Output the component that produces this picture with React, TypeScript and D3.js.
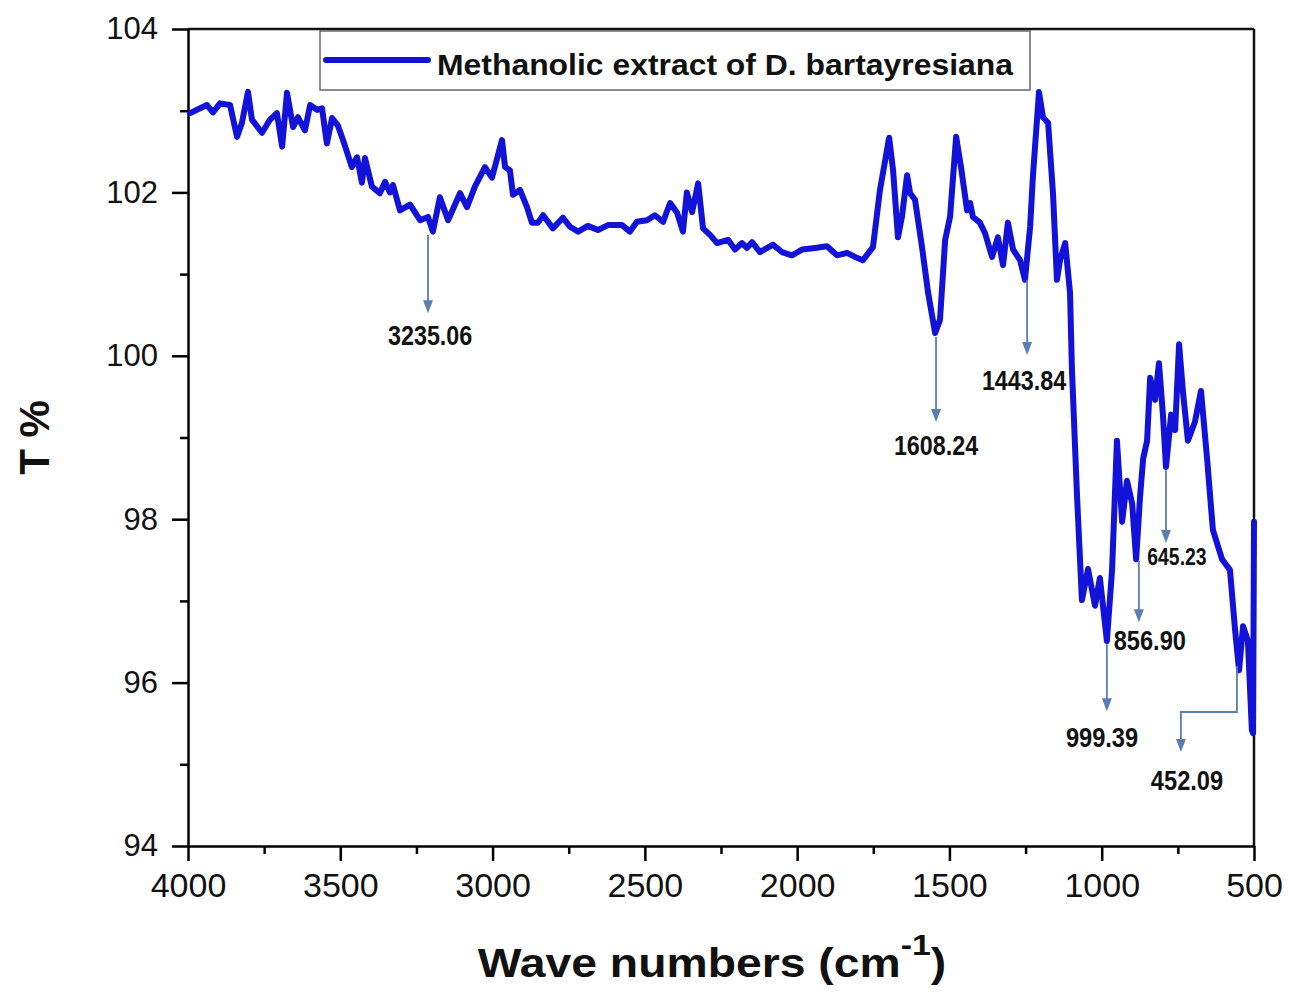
import * as d3 from 'd3';
import React, { useEffect, useRef } from 'react';

// FTIR spectrum (wave number in cm-1, transmittance in %)
const wavenumbers = [
  3993, 3938, 3918, 3895, 3862, 3839, 3823, 3803, 3790, 3757, 3731, 3708, 3691, 3675, 3655, 3639,
  3616, 3599, 3576, 3560, 3544, 3527, 3508, 3491, 3462, 3445, 3429, 3419, 3396, 3370, 3353, 3337,
  3327, 3304, 3271, 3238, 3212, 3196, 3173, 3146, 3107, 3084, 3058, 3025, 3002, 2969, 2959, 2943,
  2933, 2910, 2887, 2871, 2851, 2834, 2802, 2769, 2746, 2719, 2687, 2654, 2621, 2575, 2549, 2526,
  2493, 2467, 2440, 2417, 2394, 2375, 2362, 2345, 2325, 2309, 2286, 2263, 2227, 2204, 2181, 2165,
  2148, 2122, 2079, 2050, 2017, 1984, 1941, 1902, 1869, 1836, 1810, 1784, 1751, 1728, 1698, 1685,
  1669, 1656, 1639, 1629, 1613, 1590, 1570, 1547, 1531, 1514, 1498, 1478, 1462, 1442, 1432, 1423,
  1400, 1383, 1360, 1341, 1324, 1308, 1291, 1268, 1252, 1235, 1226, 1206, 1193, 1176, 1160, 1147,
  1137, 1120, 1104, 1098, 1081, 1065, 1045, 1022, 1006, 983, 966, 950, 933, 917, 900, 887,
  874, 864, 851, 841, 825, 812, 799, 789, 772, 759, 746, 733, 717, 694, 674, 654,
  635, 605, 579, 562, 549, 536, 520, 507, 503, 500,
];
const transmittance = [
  102.97, 103.07, 102.98, 103.09, 103.07, 102.68, 102.85, 103.23, 102.89, 102.73, 102.89, 102.97, 102.56, 103.22, 102.8, 102.92,
  102.76, 103.07, 103.01, 103.03, 102.6, 102.91, 102.82, 102.64, 102.31, 102.43, 102.12, 102.42, 102.07, 101.99, 102.13, 102.0,
  102.09, 101.78, 101.85, 101.66, 101.7, 101.52, 101.94, 101.66, 101.99, 101.82, 102.07, 102.31, 102.18, 102.64, 102.31, 102.27,
  101.97, 102.03, 101.82, 101.63, 101.63, 101.72, 101.56, 101.69, 101.58, 101.52, 101.59, 101.54, 101.6, 101.6, 101.52, 101.64,
  101.66, 101.72, 101.64, 101.87, 101.75, 101.52, 102.0, 101.76, 102.11, 101.56, 101.48, 101.38, 101.42, 101.3, 101.38, 101.32,
  101.39, 101.27, 101.36, 101.27, 101.23, 101.3, 101.32, 101.34, 101.23, 101.26, 101.21, 101.17, 101.33, 102.03, 102.67, 102.27,
  101.45, 101.7, 102.21, 101.99, 101.91, 101.33, 100.77, 100.28, 100.44, 101.42, 101.7, 102.68, 102.31, 101.78, 101.87, 101.7,
  101.63, 101.5, 101.21, 101.45, 101.11, 101.63, 101.3, 101.17, 100.93, 101.58, 102.19, 103.23, 102.92, 102.85, 101.99, 100.93,
  101.17, 101.38, 100.77, 99.86, 98.28, 97.01, 97.39, 96.94, 97.28, 96.51, 97.38, 98.96, 97.97, 98.47, 98.19, 97.51,
  98.28, 98.74, 98.96, 99.73, 99.46, 99.91, 99.28, 98.64, 99.28, 99.09, 100.14, 99.55, 98.96, 99.19, 99.57, 98.74,
  97.87, 97.51, 97.38, 96.64, 96.15, 96.69, 96.51, 95.42, 95.38, 97.97,
];

const xTicks = [4000, 3500, 3000, 2500, 2000, 1500, 1000, 500];
const xMinorTicks = [3750, 3250, 2750, 2250, 1750, 1250, 750];
const yTicks = [94, 96, 98, 100, 102, 104];
const yMinorTicks = [95, 97, 99, 101, 103];

const legendLabel = 'Methanolic extract of D. bartayresiana';

// peak annotations: arrow runs from the curve (top) down to the tip (both in T %)
const peakLabels = ['3235.06', '1608.24', '1443.84', '999.39', '856.90', '645.23', '452.09'];
const peakArrowX = [3212, 1544, 1245, 983, 878, 789, 556];
const peakArrowTop = [101.48, 100.23, 100.93, 96.47, 97.49, 98.6, 96.2];
const peakArrowTip = [100.52, 99.19, 100.01, 95.65, 96.74, 97.71, 95.15];
const peakBendX = [null, null, null, null, null, null, 740];
const peakBendT = [null, null, null, null, null, null, 95.64];
const peakLabelX = [3205, 1544, 1255, 999, 842, 753, 720];
const peakLabelT = [100.13, 98.79, 99.58, 95.21, 96.4, 97.44, 94.69];
const peakLabelSize = [28, 28, 28, 28, 28, 23, 28];

const W = 1289;
const H = 993;
const left = 188;
const right = 1254;
const top = 29;
const bottom = 846;

const lineColor = '#1212d8';
const arrowColor = '#5b7db3';
const font = "'Liberation Sans', Arial, sans-serif";

function App() {
  const xAxisRef = useRef<SVGGElement>(null);
  const xMinorRef = useRef<SVGGElement>(null);
  const yAxisRef = useRef<SVGGElement>(null);
  const yMinorRef = useRef<SVGGElement>(null);

  const x = d3.scaleLinear().domain([4000, 500]).range([left, right]);
  const y = d3.scaleLinear().domain([94, 104]).range([bottom, top]);

  const line = d3
    .line<number>()
    .x((d, i) => x(wavenumbers[i]))
    .y((d) => y(d));

  useEffect(() => {
    // major x ticks + labels
    const xa = d3.select(xAxisRef.current!);
    xa.call(
      d3.axisBottom(x).tickValues(xTicks).tickSize(15).tickSizeOuter(0).tickPadding(12).tickFormat(d3.format('d')) as any
    );
    xa.attr('font-size', 34).attr('font-family', font);
    xa.select('.domain').attr('stroke-width', 2.5);
    xa.selectAll('.tick line').attr('stroke-width', 2.5);
    xa.selectAll('.tick text').attr('fill', '#111');

    // minor x ticks
    const xm = d3.select(xMinorRef.current!);
    xm.call(d3.axisBottom(x).tickValues(xMinorTicks).tickSize(8).tickFormat(() => '') as any);
    xm.select('.domain').remove();
    xm.selectAll('.tick line').attr('stroke-width', 2.5);

    // major y ticks + labels
    const ya = d3.select(yAxisRef.current!);
    ya.call(
      d3.axisLeft(y).tickValues(yTicks).tickSize(16).tickSizeOuter(0).tickPadding(14).tickFormat(d3.format('d')) as any
    );
    ya.attr('font-size', 31).attr('font-family', font);
    ya.select('.domain').attr('stroke-width', 2.5);
    ya.selectAll('.tick line').attr('stroke-width', 2.5);
    ya.selectAll('.tick text').attr('fill', '#111');

    // minor y ticks
    const ym = d3.select(yMinorRef.current!);
    ym.call(d3.axisLeft(y).tickValues(yMinorTicks).tickSize(8).tickFormat(() => '') as any);
    ym.select('.domain').remove();
    ym.selectAll('.tick line').attr('stroke-width', 2.5);
  }, []);

  const arrowHead = (cx: number, tipY: number) =>
    `M${cx - 5},${tipY - 13} L${cx + 5},${tipY - 13} L${cx},${tipY} Z`;

  return (
    <svg
      width={W}
      height={H}
      style={{ position: 'absolute', left: 0, top: 0, background: '#fff' }}
    >
      {/* frame top + right */}
      <line x1={left} x2={right} y1={top} y2={top} stroke="#111" strokeWidth={2.5} />
      <line x1={right} x2={right} y1={top} y2={bottom} stroke="#111" strokeWidth={2.5} />

      <g ref={xMinorRef} transform={`translate(0,${bottom})`} />
      <g ref={xAxisRef} transform={`translate(0,${bottom})`} />
      <g ref={yMinorRef} transform={`translate(${left},0)`} />
      <g ref={yAxisRef} transform={`translate(${left},0)`} />

      {/* spectrum */}
      <path
        d={line(transmittance) || ''}
        fill="none"
        stroke={lineColor}
        strokeWidth={6}
        strokeLinejoin="round"
        strokeLinecap="round"
      />

      {/* peak arrows and labels */}
      {peakLabels.map((lab, i) => {
        const ax = x(peakArrowX[i]);
        const bx = peakBendX[i];
        const tipX = bx != null ? x(bx) : ax;
        const tipY = y(peakArrowTip[i]);
        const pts =
          bx != null
            ? `${ax},${y(peakArrowTop[i])} ${ax},${y(peakBendT[i]!)} ${tipX},${y(peakBendT[i]!)} ${tipX},${tipY - 10}`
            : `${ax},${y(peakArrowTop[i])} ${ax},${tipY - 10}`;
        const fs = peakLabelSize[i];
        return (
          <g key={lab}>
            <polyline points={pts} fill="none" stroke={arrowColor} strokeWidth={1.8} />
            <path d={arrowHead(tipX, tipY)} fill={arrowColor} />
            <text
              x={x(peakLabelX[i])}
              y={y(peakLabelT[i])}
              textAnchor="middle"
              fontSize={fs}
              fontWeight="bold"
              fontFamily={font}
              fill="#111"
              textLength={lab.length * fs * 0.43}
              lengthAdjust="spacingAndGlyphs"
            >
              {lab}
            </text>
          </g>
        );
      })}

      {/* legend */}
      <rect x={320} y={31} width={710} height={59} fill="#fff" stroke="#666" strokeWidth={1.5} />
      <line x1={326} x2={428} y1={60} y2={60} stroke={lineColor} strokeWidth={6} strokeLinecap="round" />
      <text
        x={437}
        y={75}
        fontSize={30}
        fontWeight="bold"
        fontFamily={font}
        fill="#111"
        textLength={576}
        lengthAdjust="spacingAndGlyphs"
      >
        {legendLabel}
      </text>

      {/* axis titles */}
      <g transform="translate(712,977) scale(1.13,1)">
        <text
          x={0}
          y={0}
          textAnchor="middle"
          fontSize={41}
          fontWeight="bold"
          fontFamily={font}
          fill="#111"
        >
          Wave numbers (cm
          <tspan fontSize={30} dy={-22}>-1</tspan>
          <tspan dy={22}>)</tspan>
        </text>
      </g>
      <text
        transform={`translate(49,${(top + bottom) / 2}) rotate(-90)`}
        textAnchor="middle"
        fontSize={42}
        fontWeight="bold"
        fontFamily={font}
        fill="#111"
      >
        T %
      </text>
    </svg>
  );
}

export default App;
